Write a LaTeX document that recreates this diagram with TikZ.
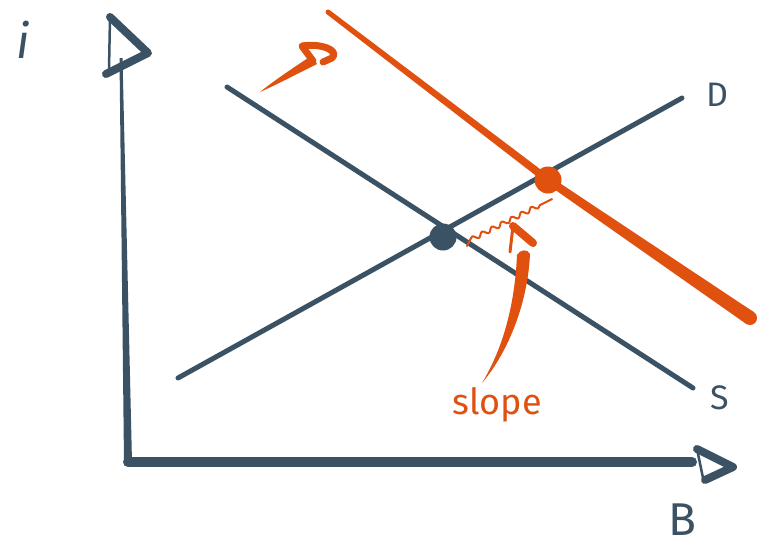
\documentclass[tikz,border=0pt]{standalone}
\usepackage{fontspec}
\setmainfont{Fira Sans}
\usetikzlibrary{decorations.pathmorphing}
\definecolor{ink}{HTML}{3B5265}
\definecolor{hot}{HTML}{E0500F}
\begin{document}
\begin{tikzpicture}[x=1pt,y=-1pt,
  inkline/.style={draw=ink,line cap=round,line join=round},
  hotline/.style={draw=hot,line cap=round,line join=round},
  lbl/.style={text=ink,inner sep=0pt,font=\fontsize{34}{34}\selectfont},
  dot/.style={circle,inner sep=0pt,minimum size=27pt}]
\useasboundingbox (0,0) rectangle (757,554);
% coordinates
\coordinate (o) at (128,462);
\coordinate (ytop) at (121,58);
\coordinate (xend) at (692,462);
\coordinate (s1) at (227,87);
\coordinate (s2) at (693,388);
\coordinate (d1) at (178,378);
\coordinate (d2) at (682,98);
% vertical axis (tapered)
\fill[ink] (119.5,58) -- (122.5,58) -- (132,462) -- (124,462) -- cycle;
% y arrowhead
\draw[inkline,line width=2.5pt] (110,17) -- (109,70);
\draw[inkline,line width=8pt] (110,17) -- (148,53) -- (106,74);
% horizontal axis
\draw[inkline,line width=10pt] (o) -- (xend);
\draw[inkline,line width=2.5pt] (697,449) -- (703,478);
\draw[inkline,line width=8pt] (697,449) -- (733,467) -- (705,480);
% supply and demand lines
\draw[inkline,line width=5pt] (s1) -- (s2);
\draw[inkline,line width=5pt] (d1) -- (d2);
% shifted orange curve (tapered)
\fill[hot] (329.5,10) -- (550.3,176.8) -- (754.1,312.3) -- (745.9,323.7) -- (545.7,183.2) -- (326.5,14) -- cycle;
\fill[hot] (328,12) circle (2.5);
\fill[hot] (750,318) circle (7);
% intersection dots
\node[dot,fill=ink] (e1) at (443,237) {};
\node[dot,fill=hot] (e2) at (548,180) {};
% squiggle
\draw[hotline,line width=2pt] (467,246) -- (470,240);
\draw[hotline,line width=2pt,decorate,decoration={snake,amplitude=2.2pt,segment length=11pt,post length=8pt}] (470,240) -- (552,199);
% big curved arrow
\fill[hot] (482,383) .. controls (505,345) and (515,300) .. (517,255)
  .. controls (520,249) and (528,249) .. (530,254)
  .. controls (528,300) and (510,350) .. (482,383) -- cycle;
\draw[hotline,line width=3pt] (510,252) -- (513,226);
\draw[hotline,line width=8pt] (513,226) -- (533,243);
% top-left orange arrow
\fill[hot] (260,92) .. controls (275,80) and (290,70) .. (311,56)
  -- (317,64) .. controls (295,75) and (278,84) .. (260,92) -- cycle;
\draw[hotline,line width=7pt] (313,61) -- (302,46) .. controls (320,43) and (340,50) .. (332,58) -- (323,62);
% labels
\node[lbl,font=\fontsize{48}{48}\selectfont\itshape] (li) at (23,40) {i};
\node[lbl] (ld) at (717,95) {D};
\node[lbl] (ls) at (720,398) {S};
\node[lbl,font=\fontsize{46}{46}\selectfont] (lb) at (682,520) {B};
\node[lbl,text=hot,font=\fontsize{36}{36}\selectfont] (lslope) at (497,405) {slope};
\end{tikzpicture}
\end{document}
